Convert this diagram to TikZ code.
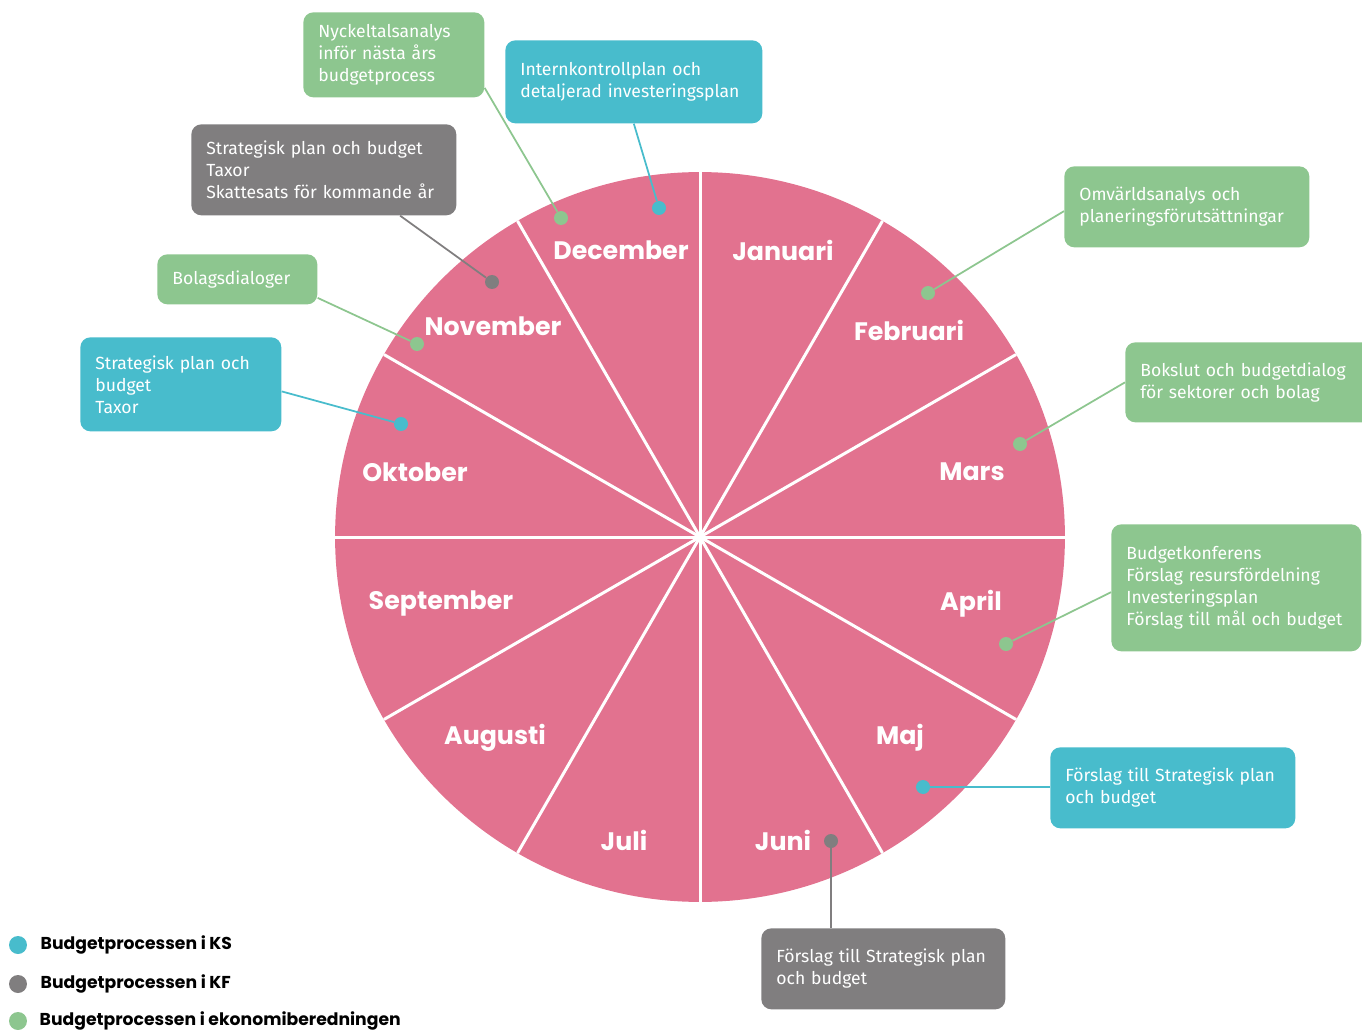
\documentclass[tikz,border=0pt]{standalone}
\usepackage{fontspec}
\setmainfont{Fira Sans}
\newfontfamily\heavyfont{Poppins}
\usetikzlibrary{arrows,positioning}

\definecolor{monthpink}{RGB}{226,114,143}
\definecolor{kscol}{RGB}{72,188,204}
\definecolor{kfcol}{RGB}{128,126,127}
\definecolor{ekcol}{RGB}{141,198,143}

\begin{document}
\begin{tikzpicture}[x=0.02cm, y=-0.02cm]
\tikzset{month/.style = {text=white, font=\heavyfont\bfseries\fontsize{14.4}{17}\selectfont},
         box/.style = {anchor=north west, rounded corners=0.2cm, inner xsep=0.3cm, inner ysep=0pt,
                       align=left, text=white, font=\fontsize{10}{12.5}\selectfont},
         dot/.style = {circle, inner sep=0pt, minimum size=0.28cm},
         link/.style = {line width=1pt},
         legend/.style = {inner sep=0pt, font=\heavyfont\bfseries\fontsize{9.8}{12}\selectfont}}

\useasboundingbox (0,0) rectangle (1362,1030);

% the year wheel
\coordinate (c) at (700,537);
\fill[monthpink] (c) circle[radius=7.3cm];
\foreach \a in {0,30,...,330}
  \draw[white, line width=0.06cm] (c) -- ++(\a:7.3cm);

\node[month] (jan) at (783,250) {Januari};
\node[month] (feb) at (909,330) {Februari};
\node[month] (mar) at (972,472) {Mars};
\node[month] (apr) at (971,604) {April};
\node[month] (maj) at (900,738) {Maj};
\node[month] (jun) at (783,840) {Juni};
\node[month] (jul) at (624,840) {Juli};
\node[month] (aug) at (495,738) {Augusti};
\node[month] (sep) at (441,604) {September};
\node[month] (okt) at (415,472) {Oktober};
\node[month] (nov) at (493,326) {November};
\node[month] (dec) at (621,250) {December};

% boxes
\node[box, fill=ekcol, text width=3.02cm, minimum height=1.7cm] (nyck) at (303,12)
  {Nyckeltalsanalys\\inför nästa års\\budgetprocess};
\node[box, fill=kscol, text width=4.54cm, minimum height=1.66cm] (intk) at (505,40)
  {Internkontrollplan och\\detaljerad investeringsplan};
\node[box, fill=kfcol, text width=4.7cm, minimum height=1.82cm] (kfdec) at (191,124)
  {Strategisk plan och budget\\Taxor\\Skattesats för kommande år};
\node[box, fill=ekcol, text width=2.6cm, minimum height=1.0cm] (bolag) at (157,254)
  {Bolagsdialoger};
\node[box, fill=kscol, text width=3.42cm, minimum height=1.88cm] (ksokt) at (80,337)
  {Strategisk plan och\\budget\\Taxor};
\node[box, fill=ekcol, text width=4.3cm, minimum height=1.62cm] (omv) at (1064,166)
  {Omvärldsanalys och\\planeringsförutsättningar};
\node[box, fill=ekcol, text width=4.4cm, minimum height=1.6cm] (boks) at (1125,342)
  {Bokslut och budgetdialog\\för sektorer och bolag};
\node[box, fill=ekcol, text width=4.4cm, minimum height=2.54cm] (bkonf) at (1111,524)
  {Budgetkonferens\\Förslag resursfördelning\\Investeringsplan\\Förslag till mål och budget};
\node[box, fill=kscol, text width=4.3cm, minimum height=1.62cm] (ksmaj) at (1050,747)
  {Förslag till Strategisk plan\\och budget};
\node[box, fill=kfcol, text width=4.28cm, minimum height=1.62cm] (kfjun) at (761,928)
  {Förslag till Strategisk plan\\och budget};

% markers in the wheel
\node[dot, fill=ekcol] (dnyck) at (561,218) {};
\node[dot, fill=kscol] (dintk) at (659,208) {};
\node[dot, fill=kfcol] (dkfdec) at (492,282) {};
\node[dot, fill=ekcol] (dbolag) at (417,344) {};
\node[dot, fill=kscol] (dksokt) at (401,424) {};
\node[dot, fill=ekcol] (domv) at (928,293) {};
\node[dot, fill=ekcol] (dboks) at (1020,444) {};
\node[dot, fill=ekcol] (dbkonf) at (1006,644) {};
\node[dot, fill=kscol] (dksmaj) at (923,787) {};
\node[dot, fill=kfcol] (dkfjun) at (831,841) {};

\path[link]
(nyck.-20)  edge[ekcol] (dnyck)
(intk.south) edge[kscol] (dintk)
(kfdec.-31) edge[kfcol] (dkfdec)
(bolag.-13) edge[ekcol] (dbolag)
(ksokt.-4)  edge[kscol] (dksokt)
(omv.182)   edge[ekcol] (domv)
(boks.west) edge[ekcol] (dboks)
(bkonf.182) edge[ekcol] (dbkonf)
(dksmaj -| ksmaj.west) edge[kscol] (dksmaj)
(dkfjun |- kfjun.north) edge[kfcol] (dkfjun)
;

% legend
\node[dot, minimum size=0.36cm, fill=kscol] (lks) at (18,945) {};
\node[dot, minimum size=0.36cm, fill=kfcol] (lkf) at (18,984) {};
\node[dot, minimum size=0.36cm, fill=ekcol] (lek) at (18,1021) {};
\node[legend, right=0.26cm of lks] {Budgetprocessen i KS};
\node[legend, right=0.26cm of lkf] {Budgetprocessen i KF};
\node[legend, right=0.24cm of lek] {Budgetprocessen i ekonomiberedningen};

\end{tikzpicture}
\end{document}
